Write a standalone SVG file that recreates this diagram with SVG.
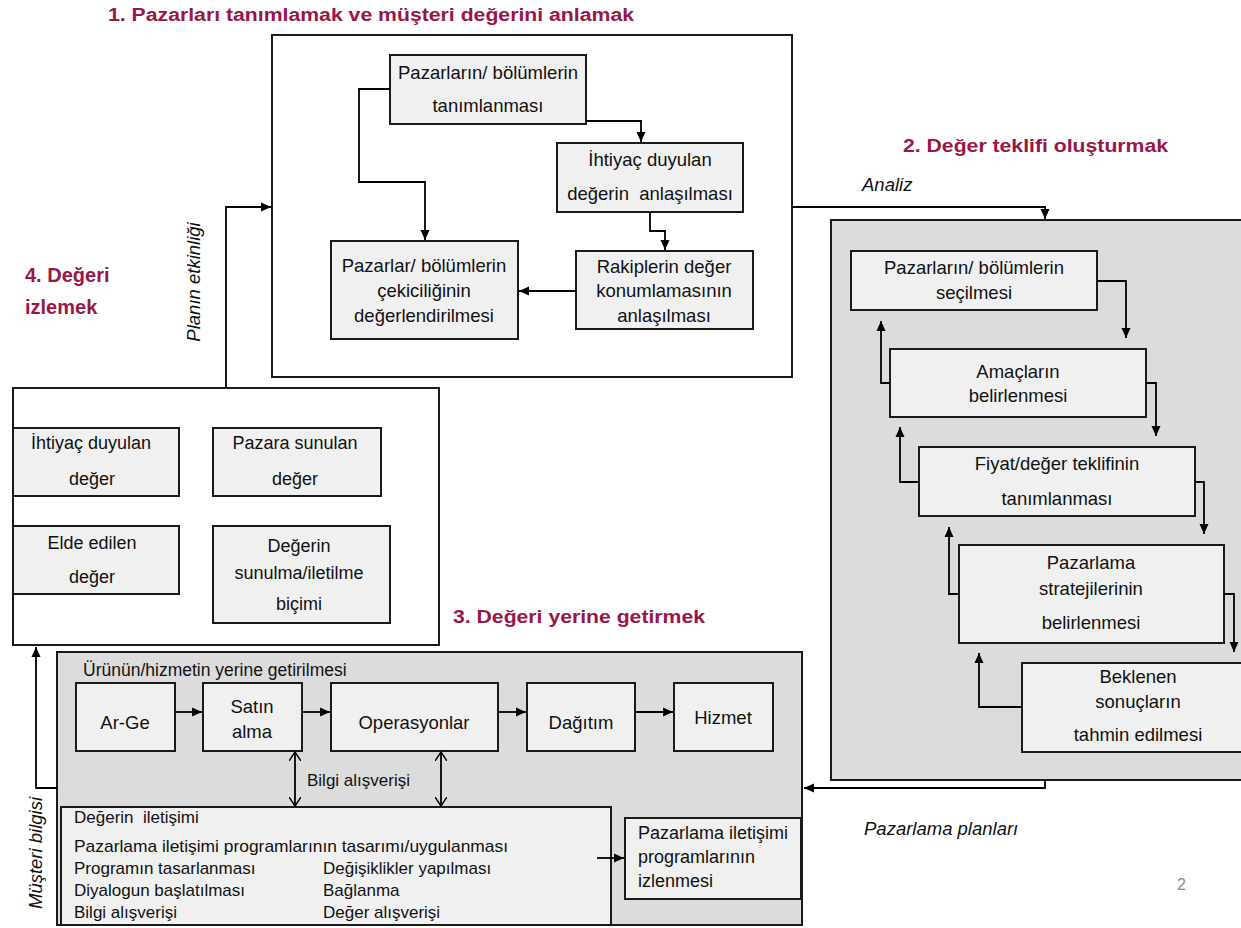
<svg xmlns="http://www.w3.org/2000/svg" width="1241" height="928" viewBox="0 0 1241 928">
<defs>
<style>
text{font-family:"Liberation Sans",Arial,sans-serif;fill:#111;}
.t{font-size:18.5px;}
.q{font-size:18px;}
.c{text-anchor:middle;}
.s{font-size:17.5px;}
.b{font-size:17px;}
.h{font-size:18px;font-weight:bold;fill:#9A1645;}
.h4{font-size:20px;font-weight:bold;fill:#9A1645;}
.i{font-style:italic;font-size:18.5px;}
.frame{fill:#fff;stroke:#1a1a1a;stroke-width:2;}
.gray{fill:#dcdcdc;stroke:#1a1a1a;stroke-width:2;}
.node{fill:#f0f0f0;stroke:#1a1a1a;stroke-width:2;}
.ln{fill:none;stroke:#000;stroke-width:1.8;}
.a{marker-end:url(#ah);}
.d{marker-start:url(#oh);marker-end:url(#oh);}
</style>
<marker id="ah" viewBox="0 0 10 10" refX="10" refY="5" markerWidth="10" markerHeight="10" orient="auto" markerUnits="userSpaceOnUse"><path d="M0,0.5 L10,5 L0,9.5 z" fill="#000"/></marker>
<marker id="oh" viewBox="0 0 10 12" refX="9" refY="6" markerWidth="10" markerHeight="12" orient="auto-start-reverse" markerUnits="userSpaceOnUse"><path d="M0,0 L9,6 L0,12" fill="none" stroke="#000" stroke-width="1.5"/></marker>
</defs>

<!-- Titles -->
<text class="h" x="108" y="21" textLength="526" lengthAdjust="spacingAndGlyphs">1. Pazarları tanımlamak ve müşteri değerini anlamak</text>
<text class="h" x="903" y="152" textLength="265" lengthAdjust="spacingAndGlyphs">2. Değer teklifi oluşturmak</text>
<text class="h" x="453" y="623" textLength="252" lengthAdjust="spacingAndGlyphs">3. Değeri yerine getirmek</text>
<text class="h4" x="25" y="282">4. Değeri</text>
<text class="h4" x="25" y="314">izlemek</text>

<!-- Frames -->
<g id="frame1"><rect class="frame" x="272" y="35" width="520" height="342"/></g>
<g id="frame2"><rect class="gray" x="831" y="220" width="420" height="560"/></g>
<g id="frame4"><rect class="frame" x="13" y="388" width="426" height="257"/></g>
<g id="frame3"><rect class="gray" x="57" y="652" width="745" height="273"/>
<text class="s" x="83" y="676">Ürünün/hizmetin yerine getirilmesi</text></g>

<!-- Section 1 nodes -->
<g id="n1a"><rect class="node" x="390" y="55" width="196" height="69"/>
<text class="t c" x="488" y="79">Pazarların/ bölümlerin</text>
<text class="t c" x="488" y="112">tanımlanması</text></g>
<g id="n1b"><rect class="node" x="557" y="143" width="186" height="69"/>
<text class="t c" x="650" y="166">İhtiyaç duyulan</text>
<text class="t c" x="650" y="200" xml:space="preserve">değerin  anlaşılması</text></g>
<g id="n1c"><rect class="node" x="331" y="241" width="187" height="98"/>
<text class="t c" x="424" y="272">Pazarlar/ bölümlerin</text>
<text class="t c" x="424" y="297">çekiciliğinin</text>
<text class="t c" x="424" y="322">değerlendirilmesi</text></g>
<g id="n1d"><rect class="node" x="576" y="251" width="177" height="78"/>
<text class="t c" x="664" y="273">Rakiplerin değer</text>
<text class="t c" x="664" y="297">konumlamasının</text>
<text class="t c" x="664" y="322">anlaşılması</text></g>

<!-- Section 2 nodes -->
<g id="n2a"><rect class="node" x="851" y="251" width="246" height="59"/>
<text class="t c" x="974" y="274">Pazarların/ bölümlerin</text>
<text class="t c" x="974" y="299">seçilmesi</text></g>
<g id="n2b"><rect class="node" x="890" y="349" width="256" height="68"/>
<text class="t c" x="1018" y="378">Amaçların</text>
<text class="t c" x="1018" y="402">belirlenmesi</text></g>
<g id="n2c"><rect class="node" x="919" y="447" width="276" height="69"/>
<text class="t c" x="1057" y="470">Fiyat/değer teklifinin</text>
<text class="t c" x="1057" y="505">tanımlanması</text></g>
<g id="n2d"><rect class="node" x="959" y="545" width="265" height="98"/>
<text class="t c" x="1091" y="569">Pazarlama</text>
<text class="t c" x="1091" y="595">stratejilerinin</text>
<text class="t c" x="1091" y="629">belirlenmesi</text></g>
<g id="n2e"><rect class="node" x="1022" y="663" width="240" height="89"/>
<text class="t c" x="1138" y="683">Beklenen</text>
<text class="t c" x="1138" y="708">sonuçların</text>
<text class="t c" x="1138" y="741">tahmin edilmesi</text></g>

<!-- Section 4 nodes -->
<g id="n4a"><rect class="node" x="13" y="428" width="166" height="68"/>
<text class="q c" x="91" y="449">İhtiyaç duyulan</text>
<text class="q c" x="92" y="485">değer</text></g>
<g id="n4b"><rect class="node" x="213" y="428" width="168" height="68"/>
<text class="q c" x="295" y="449">Pazara sunulan</text>
<text class="q c" x="295" y="485">değer</text></g>
<g id="n4c"><rect class="node" x="13" y="526" width="166" height="68"/>
<text class="q c" x="92" y="549">Elde edilen</text>
<text class="q c" x="92" y="583">değer</text></g>
<g id="n4d"><rect class="node" x="213" y="526" width="177" height="97"/>
<text class="q c" x="299" y="552">Değerin</text>
<text class="q c" x="299" y="579">sunulma/iletilme</text>
<text class="q c" x="299" y="610">biçimi</text></g>

<!-- Section 3 nodes -->
<g id="n3a"><rect class="node" x="76" y="683" width="99" height="68"/>
<text class="t c" x="125" y="729">Ar-Ge</text></g>
<g id="n3b"><rect class="node" x="203" y="683" width="99" height="68"/>
<text class="t c" x="252" y="713">Satın</text>
<text class="t c" x="252" y="738">alma</text></g>
<g id="n3c"><rect class="node" x="331" y="683" width="167" height="68"/>
<text class="t c" x="414" y="729">Operasyonlar</text></g>
<g id="n3d"><rect class="node" x="527" y="683" width="108" height="68"/>
<text class="t c" x="581" y="729">Dağıtım</text></g>
<g id="n3e"><rect class="node" x="674" y="683" width="99" height="68"/>
<text class="t c" x="723" y="724">Hizmet</text></g>
<g id="n3f"><rect class="node" x="61" y="807" width="550" height="118"/>
<text class="b" x="74" y="823" xml:space="preserve">Değerin  iletişimi</text>
<text class="b" x="74" y="852" textLength="434" lengthAdjust="spacingAndGlyphs">Pazarlama iletişimi programlarının tasarımı/uygulanması</text>
<text class="b" x="74" y="874">Programın tasarlanması</text>
<text class="b" x="323" y="874">Değişiklikler yapılması</text>
<text class="b" x="74" y="896">Diyalogun başlatılması</text>
<text class="b" x="323" y="896">Bağlanma</text>
<text class="b" x="74" y="918">Bilgi alışverişi</text>
<text class="b" x="323" y="918">Değer alışverişi</text></g>
<g id="n3g"><rect class="node" x="625" y="818" width="176" height="81"/>
<text class="q" x="638" y="839">Pazarlama iletişimi</text>
<text class="q" x="638" y="863">programlarının</text>
<text class="q" x="638" y="887">izlenmesi</text></g>

<!-- Labels -->
<text class="i" x="862" y="191">Analiz</text>
<text class="i" x="864" y="835">Pazarlama planları</text>
<text class="b" x="307" y="786">Bilgi alışverişi</text>
<text class="i c" transform="translate(200,282) rotate(-90)">Planın etkinliği</text>
<text class="i c" transform="translate(42,853) rotate(-90)">Müşteri bilgisi</text>
<text x="1177" y="890" style="font-size:16px;fill:#8c8c8c;">2</text>

<!-- Connectors -->
<g id="connectors">
<path class="ln a" d="M226,388 V207 H271"/>
<path class="ln a" d="M792,207 H1045 V219"/>
<path class="ln a" d="M1045,780 V788 H804"/>
<path class="ln a" d="M57,788 H36 V647"/>
<path class="ln a" d="M390,89 H359 V182 H425 V240"/>
<path class="ln a" d="M586,121 H641 V142"/>
<path class="ln a" d="M650,212 V231 H665 V250"/>
<path class="ln a" d="M576,291 H519"/>
<path class="ln a" d="M1097,281 H1126 V338"/>
<path class="ln a" d="M1146,383 H1156 V436"/>
<path class="ln a" d="M1195,482 H1204 V534"/>
<path class="ln a" d="M1224,594 H1234 V652"/>
<path class="ln a" d="M890,383 H881 V321"/>
<path class="ln a" d="M919,482 H900 V427"/>
<path class="ln a" d="M959,594 H949 V527"/>
<path class="ln a" d="M1022,707 H979 V653"/>
<path class="ln a" d="M175,712 H202"/>
<path class="ln a" d="M302,712 H330"/>
<path class="ln a" d="M498,712 H526"/>
<path class="ln a" d="M635,712 H673"/>
<path class="ln d" d="M295,752 V806"/>
<path class="ln d" d="M441,752 V806"/>
<path class="ln a" d="M597,858 H624"/>
</g>
</svg>
